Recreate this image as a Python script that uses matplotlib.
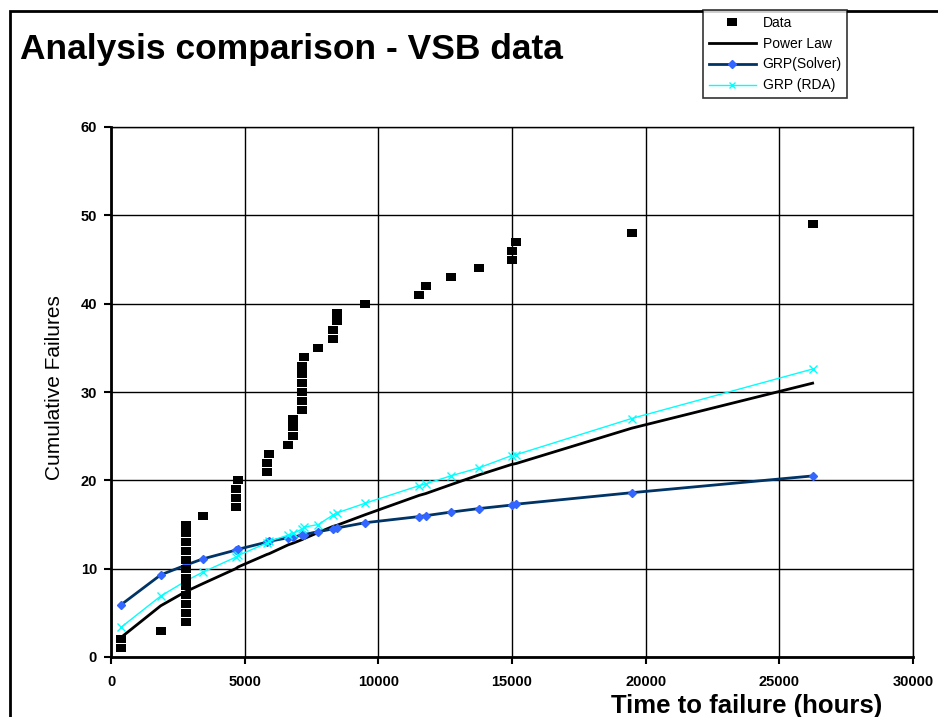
import matplotlib
matplotlib.use("Agg")
import matplotlib.pyplot as plt
from matplotlib.patches import Rectangle
from matplotlib.lines import Line2D

plt.rcParams["font.family"] = ["Liberation Sans", "DejaVu Sans"]

# Observed failures (time in hours, cumulative count)
data_t = [370, 370, 1860] + [2795] * 12 + [3430, 4665, 4665, 4665, 4760,
          5825, 5825, 5920, 6630, 6820, 6820, 6820] + [7155] * 6 + [
          7220, 7755, 8315, 8315, 8440, 8440, 9500, 11530, 11770, 12705,
          13750, 14985, 14985, 15150, 19475, 26245]
data_n = list(range(1, 50))

# Model curves evaluated at the distinct failure times
fit_t = [370, 1860, 2795, 3430, 4665, 4760, 5825, 5920, 6630, 6820, 7155,
         7220, 7755, 8315, 8440, 9500, 11530, 11770, 12705, 13750, 14985,
         15150, 19475, 26245]
power_law = [2.2, 5.8, 7.4, 8.3, 10.0, 10.2, 11.6, 11.7, 12.7, 12.9, 13.3,
             13.4, 14.1, 14.8, 14.9, 16.1, 18.3, 18.5, 19.5, 20.6, 21.8,
             21.9, 25.9, 31.0]
grp_solver = [5.9, 9.3, 10.4, 11.1, 12.1, 12.2, 13.0, 13.1, 13.5, 13.6, 13.8,
              13.85, 14.2, 14.5, 14.6, 15.2, 15.9, 16.0, 16.4, 16.8, 17.2,
              17.3, 18.6, 20.5]
grp_rda = [3.35, 6.9, 8.6, 9.6, 11.3, 11.5, 12.9, 13.1, 13.8, 14.0, 14.5,
           14.7, 15.0, 16.1, 16.3, 17.4, 19.4, 19.6, 20.5, 21.4, 22.8,
           22.9, 27.0, 32.6]

fig = plt.figure(figsize=(9.38, 7.17), dpi=100)
ax = fig.add_axes([111 / 938, 60 / 717, 802 / 938, 530 / 717])

# slightly wide rectangle, like the spreadsheet marker
box = [(-1.25, -1), (1.25, -1), (1.25, 1), (-1.25, 1), (-1.25, -1)]

ax.plot(fit_t, power_law, color="black", lw=2, zorder=3)
ax.plot(fit_t, grp_solver, color="#003366", lw=2, marker="D", ms=4,
        mfc="#3366FF", mec="#3366FF", zorder=4)
ax.plot(fit_t, grp_rda, color="#00FFFF", lw=1, marker="x", ms=6,
        mew=1, zorder=4)
ax.plot(data_t, data_n, ls="none", marker=box, ms=7.2, mew=0,
        color="black", zorder=5)

ax.set_xlim(0, 30000)
ax.set_ylim(0, 60)
ax.set_xticks(range(0, 30001, 5000))
ax.set_yticks(range(0, 61, 10))
ax.grid(True, color="black", lw=1)
ax.set_axisbelow(True)
for s in ax.spines.values():
    s.set_color("black")
    s.set_linewidth(1)
ax.spines["left"].set_linewidth(2)
ax.spines["bottom"].set_linewidth(2)
ax.tick_params(direction="out", length=5, width=1.5, labelsize=10.5)
ax.tick_params(axis="y", pad=5)
ax.tick_params(axis="x", pad=8)
for lab in ax.get_xticklabels() + ax.get_yticklabels():
    lab.set_fontweight("bold")

fig.text(55 / 938, 1 - 388 / 717, "Cumulative Failures", rotation=90,
         ha="center", va="center", fontsize=15)
fig.text(747 / 938, 1 - 706 / 717, "Time to failure (hours)", ha="center",
         va="center", fontsize=18.5, fontweight="bold")
fig.text(20 / 938, 1 - 50 / 717, "Analysis comparison - VSB data", ha="left",
         va="center", fontsize=25.5, fontweight="bold")

# outer chart frame
fig.add_artist(Rectangle((10 / 938, -0.1), 1.1, 1 - 10.5 / 717 + 0.1,
                         transform=fig.transFigure, fill=False,
                         edgecolor="black", lw=2))

handles = [
    Line2D([], [], ls="none", marker=box, ms=7.2, mew=0, color="black"),
    Line2D([], [], color="black", lw=2),
    Line2D([], [], color="#003366", lw=2, marker="D", ms=4,
           mfc="#3366FF", mec="#3366FF"),
    Line2D([], [], color="#00FFFF", lw=1, marker="x", ms=5),
]
labels = ["Data", "Power Law", "GRP(Solver)", "GRP (RDA)"]
leg = fig.legend(handles, labels, loc="upper left",
                 bbox_to_anchor=(703 / 938, 1 - 10 / 717), fontsize=10,
                 frameon=True, fancybox=False, edgecolor="black",
                 borderpad=0.4, labelspacing=0.5, handlelength=3.4,
                 handletextpad=0.5, borderaxespad=0)
leg.get_frame().set_linewidth(1.2)

fig.savefig("out.png", dpi=100)
